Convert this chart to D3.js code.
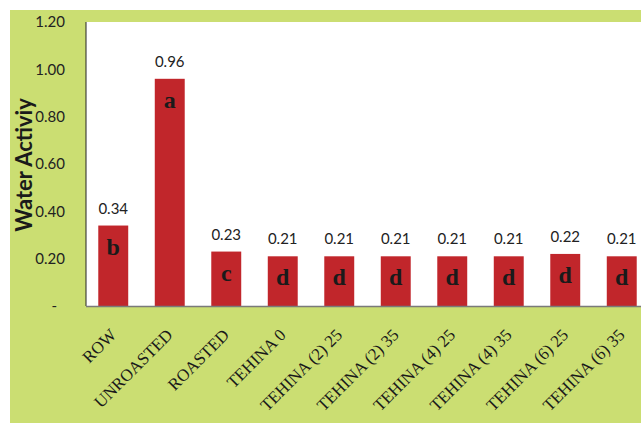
<!DOCTYPE html>
<html>
<head>
    <meta charset="utf-8">
    <title>Water Activity</title>
    <script src="https://d3js.org/d3.v7.min.js"></script>
    <style>
        body { margin: 0; background: #fff; }
    </style>
</head>
<body>
    <div id="chart"></div>
    <script>
        // data
        var categories = ["ROW", "UNROASTED", "ROASTED", "TEHINA 0", "TEHINA (2) 25", "TEHINA (2) 35",
            "TEHINA (4) 25", "TEHINA (4) 35", "TEHINA (6) 25", "TEHINA (6) 35"];
        var values = [0.34, 0.96, 0.23, 0.21, 0.21, 0.21, 0.21, 0.21, 0.22, 0.21];
        var letters = ["b", "a", "c", "d", "d", "d", "d", "d", "d", "d"];
        var yTicks = [0, 0.2, 0.4, 0.6, 0.8, 1.0, 1.2];

        var W = 641, H = 423;
        var plot = { left: 86, top: 22, bottom: 306 };

        var svg = d3.select("#chart").append("svg")
            .attr("width", W)
            .attr("height", H);

        // green frame + white plot area
        svg.append("rect")
            .attr("x", 10).attr("y", 10)
            .attr("width", W - 10).attr("height", H - 10)
            .attr("fill", "#cbde72");
        svg.append("rect")
            .attr("x", plot.left).attr("y", plot.top)
            .attr("width", W - plot.left).attr("height", plot.bottom - plot.top)
            .attr("fill", "#fff");

        var x = d3.scaleBand()
            .domain(categories)
            .range([85, 650])
            .paddingInner(0.47)
            .paddingOuter(0.235);

        var y = d3.scaleLinear()
            .domain([0, 1.2])
            .range([plot.bottom, plot.top]);

        // y axis labels
        var yAxis = svg.append("g")
            .attr("transform", "translate(" + plot.left + ",0)")
            .call(d3.axisLeft(y)
                .tickValues(yTicks)
                .tickSize(0)
                .tickPadding(21)
                .tickFormat(function (d) { return d === 0 ? "-" : d.toFixed(2); }));
        yAxis.select(".domain").remove();
        yAxis.selectAll("text")
            .attr("font-family", "Lato, 'Open Sans', sans-serif")
            .attr("font-size", 15)
            .attr("fill", "#222")
            .attr("dx", function (d) { return d === 0 ? -8 : 0; });

        // axis lines
        svg.append("line")
            .attr("x1", plot.left).attr("x2", plot.left)
            .attr("y1", plot.top).attr("y2", plot.bottom)
            .attr("stroke", "#222").attr("stroke-width", 1);

        // bars
        var g = svg.append("g");
        g.selectAll("rect.bar")
            .data(values)
            .join("rect")
            .attr("class", "bar")
            .attr("x", function (d, i) { return x(categories[i]); })
            .attr("y", function (d) { return y(d); })
            .attr("width", x.bandwidth())
            .attr("height", function (d) { return y(0) - y(d); })
            .attr("fill", "#c1262b");

        svg.append("line")
            .attr("x1", plot.left).attr("x2", W)
            .attr("y1", plot.bottom + 0.5).attr("y2", plot.bottom + 0.5)
            .attr("stroke", "#7a7a7a").attr("stroke-width", 1.5);

        // value labels
        g.selectAll("text.val")
            .data(values)
            .join("text")
            .attr("class", "val")
            .attr("x", function (d, i) { return x(categories[i]) + x.bandwidth() / 2; })
            .attr("y", function (d) { return y(d) - 12; })
            .attr("text-anchor", "middle")
            .attr("font-family", "Lato, 'Open Sans', sans-serif")
            .attr("font-size", 15)
            .attr("fill", "#222")
            .text(function (d) { return d.toFixed(2); });

        // significance letters
        g.selectAll("text.let")
            .data(letters)
            .join("text")
            .attr("class", "let")
            .attr("x", function (d, i) { return x(categories[i]) + x.bandwidth() / 2; })
            .attr("y", function (d, i) { return y(values[i]) + 29; })
            .attr("text-anchor", "middle")
            .attr("font-family", "'Liberation Serif', serif")
            .attr("font-weight", "bold")
            .attr("font-size", 24)
            .attr("fill", "#1a1a1a")
            .text(function (d) { return d; });

        // category labels, rotated
        svg.append("g").selectAll("text")
            .data(categories)
            .join("text")
            .attr("transform", function (d) {
                return "translate(" + (x(d) + x.bandwidth() / 2 + 4) + "," + 336 + ") rotate(-45)";
            })
            .attr("text-anchor", "end")
            .attr("font-family", "'Liberation Serif', serif")
            .attr("font-size", 17)
            .attr("fill", "#1a1a1a")
            .text(function (d) { return d; });

        // y title
        svg.append("text")
            .attr("transform", "translate(32,165) rotate(-90)")
            .attr("text-anchor", "middle")
            .attr("font-family", "Lato, 'Open Sans', sans-serif")
            .attr("font-weight", "bold")
            .attr("font-size", 22)
            .attr("fill", "#1a1a1a")
            .text("Water Activiy");
    </script>
</body>
</html>
